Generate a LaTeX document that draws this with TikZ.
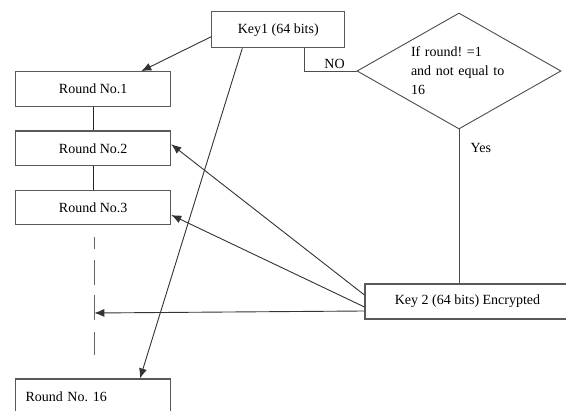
\documentclass[tikz,border=0pt]{standalone}
\usepackage{fontspec}
\setmainfont{Liberation Serif}
\usetikzlibrary{shapes.geometric,arrows.meta}
\frenchspacing
\tikzset{
  every node/.style={
    font=\fontsize{14}{19}\selectfont
  },
  roundbox/.style={
    shape=rectangle,
    minimum width=155pt,
    minimum height=34.5pt,
    inner sep=0pt,
    draw=black!65,
    line width=1.1pt
  },
  keybox/.style n args={2}{
    shape=rectangle,
    minimum width=#1,
    minimum height=#2,
    inner sep=0pt,
    draw=black!65,
    line width=1.1pt
  },
  check/.style={
    shape=diamond,
    aspect=1.76,
    minimum width=204pt,
    minimum height=116pt,
    inner sep=0pt,
    text width=96pt,
    align=left,
    draw=black!70,
    line width=0.9pt
  },
  link/.style={
    draw=black!85,
    line width=0.8pt
  },
  feed/.style={
    draw=black!80,
    line width=0.9pt,
    -{Latex[length=10pt,width=8pt]}
  },
  dashline/.style={
    draw=black!60,
    line width=1pt,
    dash pattern=on 12pt off 11pt on 25pt off 10pt on 25pt off 12pt on 23pt
  }
}

\begin{document}
\begin{tikzpicture}[x=1pt,y=-1pt]
  \clip (0,0) rectangle (566,411);

  \node [keybox={133pt}{36pt}] (key1) at (278.3,29.7) {Key1 (64 bits)};
  \node [check] (cond) at (459,71) {\raisebox{-3pt}{\parbox{96pt}{If round! =1\\and not equal to\\16}}};
  \node [roundbox] (round1) at (93.2,89) {Round No.1};
  \node [roundbox] (round2) at (93.2,148.3) {Round No.2};
  \node [roundbox] (round3) at (93.2,207.4) {Round No.3};
  \node [roundbox, minimum height=35pt, text width=135pt, align=left] (round16)
    at (93,396.5) {Round No. 16};
  \node [keybox={205pt}{35pt}] (key2) at (467.5,301.5) {Key 2 (64 bits) Encrypted};

  \coordinate (dashtop) at (94.3,237);
  \coordinate (dashbot) at (94.3,355);
  \coordinate (gap) at (94.3,313);

  % rounds in sequence
  \draw [link] (round1) -- (round2);
  \draw [link] (round2) -- (round3);
  \draw [dashline] (dashtop) -- (dashbot);

  % first key
  \draw [feed] ([yshift=-7pt]key1.west) -- ([xshift=48pt]round1.north);
  \draw [feed] ([xshift=-36pt]key1.south) -- ([xshift=47pt]round16.north);
  \draw [link, draw=black!70] ([xshift=26pt]key1.south) |- (cond.west)
    node [pos=0.79, above, inner sep=2pt] {NO};
  \draw [link, draw=black!70] (cond.south) -- (cond.south |- key2.north)
    node [pos=0.12, right, xshift=8pt] {Yes};

  % second key
  \draw [feed] ([yshift=6.5pt]key2.west) -- ([yshift=4pt]round2.east);
  \draw [feed] ([yshift=-5.5pt]key2.west) -- ([yshift=-7.6pt]round3.east);
  \draw [feed] ([yshift=-9.5pt]key2.west) -- (gap);
\end{tikzpicture}
\end{document}
